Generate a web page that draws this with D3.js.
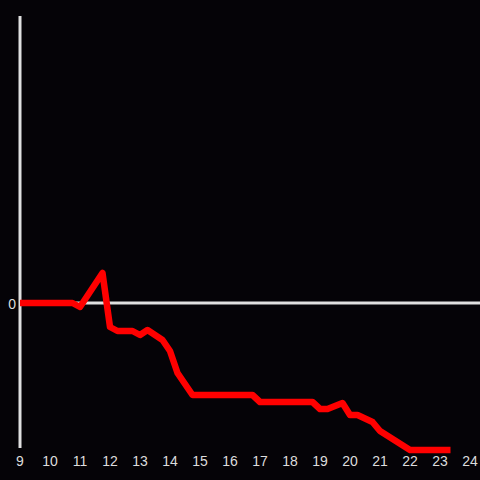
<!DOCTYPE html>
<html>
<head>
<meta charset="utf-8">
<script src="https://cdn.jsdelivr.net/npm/d3@7"></script>
<style>
  html, body { margin: 0; padding: 0; background: #050307; }
</style>
</head>
<body>
<div id="chart"></div>
<script>
// hour of day and relative value
var hours = [9, 10.75, 11, 11.75, 12, 12.25, 12.75, 13, 13.25, 13.5, 13.75, 14, 14.25, 14.75,
             16.75, 17, 18.75, 19, 19.25, 19.75, 20, 20.25, 20.75, 21, 22, 23.35];
var values = [0, 0, -0.4, 3.0, -2.4, -2.8, -2.8, -3.2, -2.7, -3.2, -3.7, -4.8, -7.0, -9.2,
              -9.2, -9.9, -9.9, -10.6, -10.6, -10.0, -11.2, -11.2, -11.9, -12.8, -14.7, -14.7];
var xTicks = [9, 10, 11, 12, 13, 14, 15, 16, 17, 18, 19, 20, 21, 22, 23, 24];
var yTicks = [0];

var width = 480, height = 480;

var svg = d3.select("#chart")
  .append("svg")
    .attr("width", width)
    .attr("height", height)
    .style("background", "#050307");

var x = d3.scaleLinear().domain([9, 24]).range([20, 470]);
var y = d3.scaleLinear().domain([-14.5, 28.7]).range([448, 16]);

// y axis line
svg.append("line")
  .attr("x1", x(9)).attr("x2", x(9))
  .attr("y1", y(28.7)).attr("y2", y(-14.5))
  .attr("stroke", "#e0e0e0")
  .attr("stroke-width", 3);

// zero line
svg.append("line")
  .attr("x1", x(9)).attr("x2", width)
  .attr("y1", y(0)).attr("y2", y(0))
  .attr("stroke", "#e0e0e0")
  .attr("stroke-width", 3);

// y tick label
svg.selectAll(".ylab")
  .data(yTicks)
  .enter().append("text")
    .attr("class", "ylab")
    .attr("x", x(9) - 4)
    .attr("y", function(d) { return y(d) + 1; })
    .attr("dy", "0.35em")
    .attr("text-anchor", "end")
    .attr("fill", "#dddddd")
    .style("font-family", "Liberation Sans, Arial, sans-serif")
    .style("font-size", "14px")
    .text(function(d) { return d; });

// x tick labels
svg.selectAll(".xlab")
  .data(xTicks)
  .enter().append("text")
    .attr("class", "xlab")
    .attr("x", function(d) { return x(d); })
    .attr("y", 461)
    .attr("dy", "0.35em")
    .attr("text-anchor", "middle")
    .attr("fill", "#dddddd")
    .style("font-family", "Liberation Sans, Arial, sans-serif")
    .style("font-size", "14px")
    .text(function(d) { return d; });

var pts = hours.map(function(h, i) { return [h, values[i]]; });

var line = d3.line()
  .x(function(d) { return x(d[0]); })
  .y(function(d) { return y(d[1]); });

svg.append("path")
  .datum(pts)
  .attr("d", line)
  .attr("fill", "none")
  .attr("stroke", "#ff0000")
  .attr("stroke-width", 6.5)
  .attr("stroke-linejoin", "round");
</script>
</body>
</html>
